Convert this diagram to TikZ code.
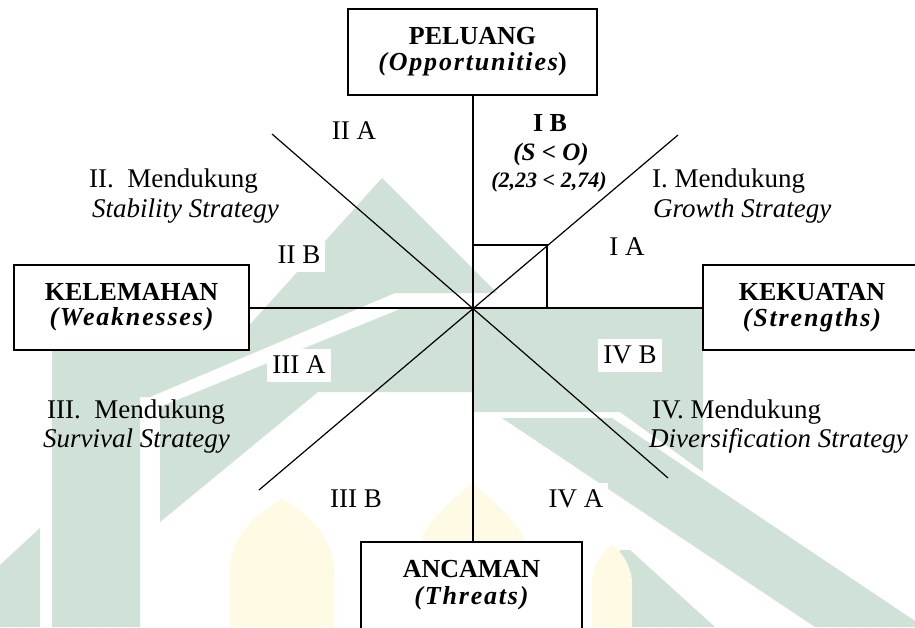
\documentclass[tikz,border=0pt]{standalone}
\usepackage{fontspec}
\setmainfont{Liberation Serif}
\newfontfamily\spacedserif{Liberation Serif}[LetterSpace=7]
\definecolor{wmgreen}{RGB}{208,225,216}
\definecolor{wmyellow}{RGB}{255,250,228}
\begin{document}
\begin{tikzpicture}[x=1pt,y=-1pt,
  boxst/.style={draw=black, line width=1.6pt, fill=white, inner sep=0pt},
  axisline/.style={draw=black, line width=1.2pt},
  txt/.style={inner sep=0pt, anchor=base, font=\fontsize{27}{30}\selectfont},
  txtw/.style={inner sep=0pt, anchor=base west, font=\fontsize{27}{30}\selectfont},
  txtwi/.style={txtw, font=\fontsize{27}{30}\selectfont\itshape},
  lbl/.style={txt, fill=white, inner xsep=5pt, inner ysep=6pt, text height=18pt, text depth=3pt},
  ttl/.style={inner sep=0pt, anchor=base, font=\fontsize{26}{30}\selectfont\bfseries},
  subt/.style={inner sep=0pt, anchor=base, font=\fontsize{26}{30}\selectfont\spacedserif\bfseries\itshape},
  bfl/.style={inner sep=0pt, anchor=base, font=\fontsize{26}{30}\selectfont\bfseries},
  bfil/.style={inner sep=0pt, anchor=base, font=\fontsize{25}{30}\selectfont\bfseries\itshape},
  bfis/.style={inner sep=0pt, anchor=base, font=\fontsize{22}{26}\selectfont\bfseries\itshape}]
\useasboundingbox (0,0) rectangle (915,627);
\fill[white] (0,0) rectangle (915,627);

% watermark
\fill[wmgreen] (382,178) -- (497,293) -- (395,293) -- (150,397) -- (140,397) -- (140,627) -- (52,627) -- (52,330) -- (245,330) -- cycle;
\fill[wmgreen] (405,307) -- (703,307) -- (703,472) -- (620,412) -- (473,412) -- (473,392) -- (318,392) -- (160,522) -- (160,407) -- cycle;
\fill[wmgreen] (502,418) -- (612,418) -- (915,621) -- (915,627) -- (815,627) -- cycle;
\fill[wmgreen] (620,550) -- (630,550) -- (715,627) -- (620,627) -- cycle;
\fill[wmgreen] (0,565) -- (40,528) -- (40,627) -- (0,627) -- cycle;
\fill[wmyellow] (230,627) -- (230,570) .. controls (232,530) and (262,512) .. (282,498) .. controls (302,512) and (332,530) .. (334,570) -- (334,627) -- cycle;
\fill[wmyellow] (418,548) .. controls (425,520) and (455,500) .. (472,482) .. controls (490,500) and (520,520) .. (527,548) -- cycle;
\fill[wmyellow] (592,627) -- (592,580) .. controls (595,560) and (605,550) .. (612,545) .. controls (619,550) and (629,560) .. (632,580) -- (632,627) -- cycle;

% boxes
\node[boxst, minimum width=249pt, minimum height=86pt] (peluang) at (472.5,52) {};
\node[boxst, minimum width=235pt, minimum height=85pt] (kelemahan) at (131.5,307.5) {};
\node[boxst, minimum width=227pt, minimum height=85pt] (kekuatan) at (816.5,307.5) {};
\node[boxst, minimum width=221pt, minimum height=103pt] (ancaman) at (471.5,593.5) {};

% coordinates
\coordinate (c) at (473,308);
\coordinate (nw) at (272,134);
\coordinate (se) at (668,478);
\coordinate (ne) at (678,135);
\coordinate (sw) at (259,490);
\coordinate (sq) at (547,245);

% lines
\draw[axisline] (c |- peluang.south) -- (c |- ancaman.north);
\draw[axisline] (kelemahan.east |- c) -- (kekuatan.west |- c);
\draw[axisline] (nw) -- (se);
\draw[axisline] (ne) -- (sw);
\draw[axisline] (c |- sq) -- (sq) -- (sq |- c);

% box texts
\node[ttl] (peluangA) at (472.5,44) {PELUANG};
\node[subt] (peluangB) at (472.5,70) {(Opportunities{\upshape)}};
\node[ttl] (kelemahanA) at (131.5,300) {KELEMAHAN};
\node[subt] (kelemahanB) at (131.5,325) {(Weaknesses)};
\node[ttl] (kekuatanA) at (812,300) {KEKUATAN};
\node[subt] (kekuatanB) at (812,326) {(Strengths)};
\node[ttl] (ancamanA) at (471.5,577) {ANCAMAN};
\node[subt] (ancamanB) at (471.5,604) {(Threats)};

% quadrant labels
\node[txt] (iia) at (354,139) {II A};
\node[bfl] (ib) at (550,131) {I B};
\node[bfil] (so) at (551,160) {(S < O)};
\node[bfis] (num) at (549,187) {(2,23 < 2,74)};
\node[txtw] (m1) at (652,187) {I. Mendukung};
\node[txtwi] (s1) at (653,217) {Growth Strategy};
\node[txt] (ia) at (627,255) {I A};
\node[txtw] (m2) at (89,187) {II.\ \ Mendukung};
\node[txtwi] (s2) at (92,217) {Stability Strategy};
\node[lbl] (iib) at (299,263) {II B};
\node[lbl] (iiia) at (299,373) {III A};
\node[txtw] (m3) at (47,418) {III.\ \ Mendukung};
\node[txtwi] (s3) at (43,447) {Survival Strategy};
\node[txt] (iiib) at (356,507) {III B};
\node[lbl] (ivb) at (630,363) {IV B};
\node[txtw] (m4) at (652,418) {IV. Mendukung};
\node[txtwi] (s4) at (649,447) {Diversification Strategy};
\node[lbl] (iva) at (576,507) {IV A};
\end{tikzpicture}
\end{document}
